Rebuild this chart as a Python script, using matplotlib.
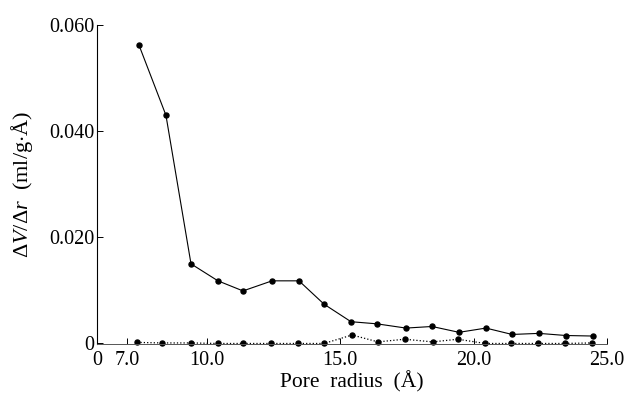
import matplotlib.pyplot as plt

plt.rcParams['font.family'] = ['Liberation Serif', 'DejaVu Serif']
plt.rcParams['mathtext.fontset'] = 'custom'
plt.rcParams['mathtext.rm'] = 'Liberation Serif'
plt.rcParams['mathtext.it'] = 'Liberation Serif:italic'

# ΔV/Δr の分布（上: 実線, 下: 点線）
r_upper = [7.45, 8.46, 9.40, 10.41, 11.35, 12.44, 13.45, 14.39, 15.40,
           16.37, 17.46, 18.44, 19.45, 20.46, 21.44, 22.45, 23.46, 24.47]
dv_upper = [0.0562, 0.0430, 0.0150, 0.0118, 0.0099, 0.0118, 0.0118, 0.0074,
            0.0041, 0.0037, 0.0029, 0.0032, 0.0021, 0.0029, 0.0017, 0.0019,
            0.0015, 0.0014]

r_lower = [7.38, 8.31, 9.40, 10.41, 11.35, 12.40, 13.41, 14.39, 15.44,
           16.41, 17.41, 18.46, 19.41, 20.43, 21.40, 22.41, 23.41, 24.42]
dv_lower = [0.0002, 0.0001, 0.0001, 0.0, 0.0, 0.0, 0.0, 0.0, 0.0016,
            0.0003, 0.0008, 0.0003, 0.0008, 0.0, 0.0, 0.0, 0.0, 0.0001]

xticks = [5.875, 7.0, 10.0, 15.0, 20.0, 25.0]
xtick_labels = ['0', '7.0', '10.0', '15.0', '20.0', '25.0']
yticks = [0.0, 0.020, 0.040, 0.060]
ytick_labels = ['0', '0.020', '0.040', '0.060']

fig = plt.figure(figsize=(6.26, 3.98), dpi=100)
ax = fig.add_axes([97 / 626, 1 - 344 / 398, 510 / 626, 319 / 398])

ax.plot(r_upper, dv_upper, '-', color='black', lw=0.8,
        marker='o', ms=3.6, clip_on=False)
ax.plot(r_lower, dv_lower, ':', color='black', lw=0.9,
        marker='o', ms=3.6, clip_on=False)

ax.set_xlim(5.875, 25.0)
ax.set_ylim(-0.0001, 0.060)
ax.set_xticks(xticks)
ax.set_xticklabels(xtick_labels)
ax.set_yticks(yticks)
ax.set_yticklabels(ytick_labels)

ax.spines['top'].set_visible(False)
ax.spines['right'].set_visible(False)
ax.spines['left'].set_linewidth(0.8)
ax.spines['bottom'].set_linewidth(0.7)
ax.spines['bottom'].set_color('#555555')
ax.tick_params(direction='in', length=4, width=0.7, labelsize=14.5)
ax.tick_params(axis='y', pad=2)
ax.tick_params(axis='x', pad=5)

ax.set_xlabel('Pore  radius  (Å)', fontsize=15.5, labelpad=1)
ax.set_ylabel(r'$\mathit{ΔV}/\mathit{Δr}$  (ml/g$\cdot$Å)',
              fontsize=16, labelpad=10)

fig.savefig('out.png', dpi=100)
